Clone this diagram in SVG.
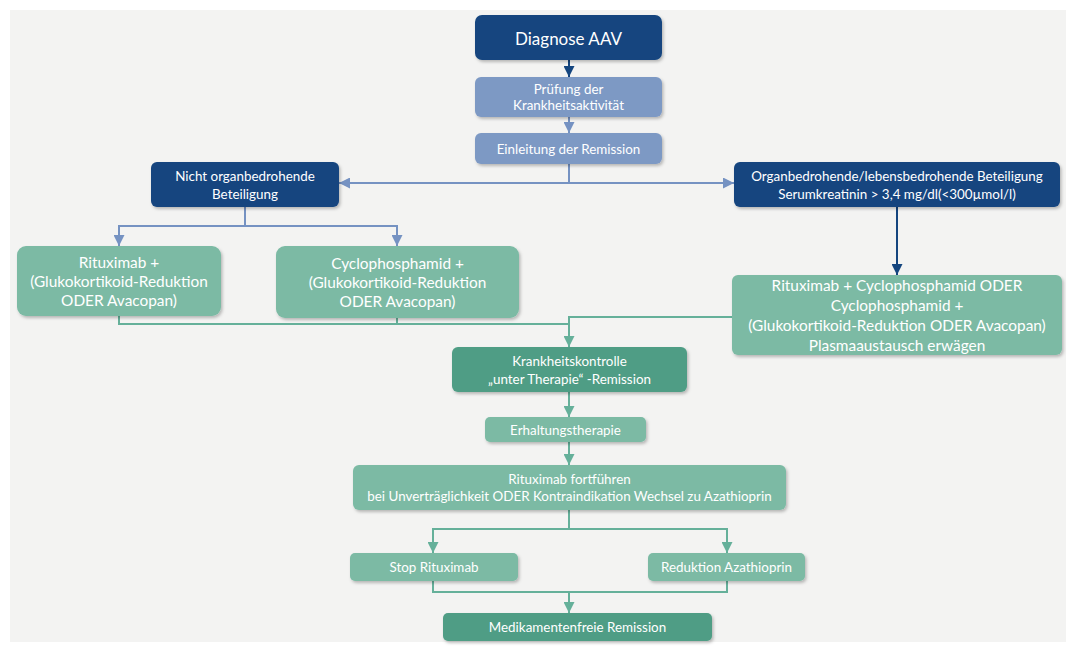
<svg xmlns="http://www.w3.org/2000/svg" width="1074" height="646" viewBox="0 0 1074 646">
  <style>
    .box { stroke: none; filter: url(#shadow); }
    .navy { fill: #14457f; }
    .steel { fill: #7d99c4; }
    .teal { fill: #7bbaa4; }
    .teal-dark { fill: #4f9d85; }
    text { font-family: Lato, "Open Sans", "Liberation Sans", sans-serif; fill: #ffffff; text-anchor: middle; dominant-baseline: central; }
    .t12 { font-size: 13.4px; }
    .t13 { font-size: 13.4px; }
    .t14 { font-size: 15.4px; }
    .t18 { font-size: 17px; }
    .c-navy { stroke: #14457f; stroke-width: 2; fill: none; }
    .c-blue { stroke: #7592c2; stroke-width: 2; fill: none; }
    .c-green { stroke: #65b09a; stroke-width: 2; fill: none; }
  </style>
  <defs>
    <filter id="shadow" x="-10%" y="-20%" width="120%" height="150%">
      <feDropShadow dx="1.5" dy="2" stdDeviation="1.5" flood-color="#000000" flood-opacity="0.25"/>
    </filter>
    <marker id="arr-navy" viewBox="0 0 10 10" refX="10" refY="5" markerWidth="11" markerHeight="11" markerUnits="userSpaceOnUse" orient="auto">
      <path d="M0,0 L10,5 L0,10 z" fill="#14457f"/>
    </marker>
    <marker id="arr-blue" viewBox="0 0 10 10" refX="10" refY="5" markerWidth="11" markerHeight="11" markerUnits="userSpaceOnUse" orient="auto">
      <path d="M0,0 L10,5 L0,10 z" fill="#7592c2"/>
    </marker>
    <marker id="arr-green" viewBox="0 0 10 10" refX="10" refY="5" markerWidth="11" markerHeight="11" markerUnits="userSpaceOnUse" orient="auto">
      <path d="M0,0 L10,5 L0,10 z" fill="#65b09a"/>
    </marker>
  </defs>

  <!-- page and backdrop panel -->
  <rect x="0" y="0" width="1074" height="646" fill="#ffffff"/>
  <rect x="10" y="10" width="1056" height="632" fill="#f3f3f2"/>

  <!-- connectors -->
  <g id="connectors">
    <path class="c-navy" d="M569,60 V77" marker-end="url(#arr-navy)"/>
    <path class="c-blue" d="M569,117 V133" marker-end="url(#arr-blue)"/>
    <path class="c-blue" d="M569,164 V183"/>
    <path class="c-blue" d="M569,183 H339" marker-end="url(#arr-blue)"/>
    <path class="c-blue" d="M569,183 H734" marker-end="url(#arr-blue)"/>
    <path class="c-blue" d="M245,207 V226"/>
    <path class="c-blue" d="M245,226 H119 V246" marker-end="url(#arr-blue)"/>
    <path class="c-blue" d="M245,226 H397 V246" marker-end="url(#arr-blue)"/>
    <path class="c-navy" d="M897,207 V275" marker-end="url(#arr-navy)"/>
    <path class="c-green" d="M119,316 V324 H569"/>
    <path class="c-green" d="M397,318 V324"/>
    <path class="c-green" d="M732,317 H569 V347" marker-end="url(#arr-green)"/>
    <path class="c-green" d="M569,392 V417" marker-end="url(#arr-green)"/>
    <path class="c-green" d="M569,442 V465" marker-end="url(#arr-green)"/>
    <path class="c-green" d="M569,510 V529"/>
    <path class="c-green" d="M569,529 H433 V553" marker-end="url(#arr-green)"/>
    <path class="c-green" d="M569,529 H727 V553" marker-end="url(#arr-green)"/>
    <path class="c-green" d="M433,581 V592 H727 V581"/>
    <path class="c-green" d="M569,592 V613" marker-end="url(#arr-green)"/>
  </g>

  <g id="diagnose">
    <rect class="box navy" x="475" y="15" width="187" height="45" rx="7"/>
    <text class="t18" x="568.5" y="38">Diagnose AAV</text>
  </g>

  <g id="pruefung">
    <rect class="box steel" x="475" y="77" width="187" height="40" rx="6"/>
    <text class="t12" x="568.5" y="89">Prüfung der</text>
    <text class="t12" x="568.5" y="105">Krankheitsaktivität</text>
  </g>

  <g id="einleitung">
    <rect class="box steel" x="475" y="133" width="187" height="31" rx="6"/>
    <text class="t12" x="568.5" y="149">Einleitung der Remission</text>
  </g>

  <g id="nicht-organbedrohend">
    <rect class="box navy" x="151" y="162" width="188" height="45" rx="6"/>
    <text class="t13" x="245" y="176">Nicht organbedrohende</text>
    <text class="t13" x="245" y="194">Beteiligung</text>
  </g>

  <g id="organbedrohend">
    <rect class="box navy" x="734" y="162" width="326" height="45" rx="6"/>
    <text class="t13" x="897" y="176">Organbedrohende/lebensbedrohende Beteiligung</text>
    <text class="t13" x="897" y="194">Serumkreatinin &gt; 3,4 mg/dl(&lt;300µmol/l)</text>
  </g>

  <g id="rituximab">
    <rect class="box teal" x="17" y="246" width="204" height="70" rx="9"/>
    <text class="t14" x="119" y="262">Rituximab +</text>
    <text class="t14" x="119" y="281">(Glukokortikoid-Reduktion</text>
    <text class="t14" x="119" y="300">ODER Avacopan)</text>
  </g>

  <g id="cyclophosphamid">
    <rect class="box teal" x="276" y="246" width="243" height="72" rx="9"/>
    <text class="t14" x="397.5" y="263">Cyclophosphamid +</text>
    <text class="t14" x="397.5" y="282">(Glukokortikoid-Reduktion</text>
    <text class="t14" x="397.5" y="301">ODER Avacopan)</text>
  </g>

  <g id="kombination">
    <rect class="box teal" x="732" y="275" width="330" height="80" rx="6"/>
    <text class="t14" x="897" y="285">Rituximab + Cyclophosphamid ODER</text>
    <text class="t14" x="897" y="305">Cyclophosphamid +</text>
    <text class="t14" x="897" y="325">(Glukokortikoid-Reduktion ODER Avacopan)</text>
    <text class="t14" x="897" y="345">Plasmaaustausch erwägen</text>
  </g>

  <g id="krankheitskontrolle">
    <rect class="box teal-dark" x="452" y="347" width="235" height="45" rx="6"/>
    <text class="t12" x="569.5" y="361">Krankheitskontrolle</text>
    <text class="t12" x="569.5" y="379">„unter Therapie“ -Remission</text>
  </g>

  <g id="erhaltung">
    <rect class="box teal" x="485" y="417" width="161" height="25" rx="5"/>
    <text class="t12" x="565.5" y="429.5">Erhaltungstherapie</text>
  </g>

  <g id="fortfuehren">
    <rect class="box teal" x="353" y="465" width="433" height="45" rx="6"/>
    <text class="t12" x="569.5" y="479">Rituximab fortführen</text>
    <text class="t12" x="569.5" y="496">bei Unverträglichkeit ODER Kontraindikation Wechsel zu Azathioprin</text>
  </g>

  <g id="stop-rituximab">
    <rect class="box teal" x="350" y="553" width="168" height="28" rx="5"/>
    <text class="t12" x="434" y="567">Stop Rituximab</text>
  </g>

  <g id="reduktion-azathioprin">
    <rect class="box teal" x="648" y="553" width="157" height="28" rx="5"/>
    <text class="t12" x="726.5" y="567">Reduktion Azathioprin</text>
  </g>

  <g id="medikamentenfrei">
    <rect class="box teal-dark" x="443" y="613" width="269" height="28" rx="5"/>
    <text class="t13" x="577.5" y="627">Medikamentenfreie Remission</text>
  </g>
</svg>
